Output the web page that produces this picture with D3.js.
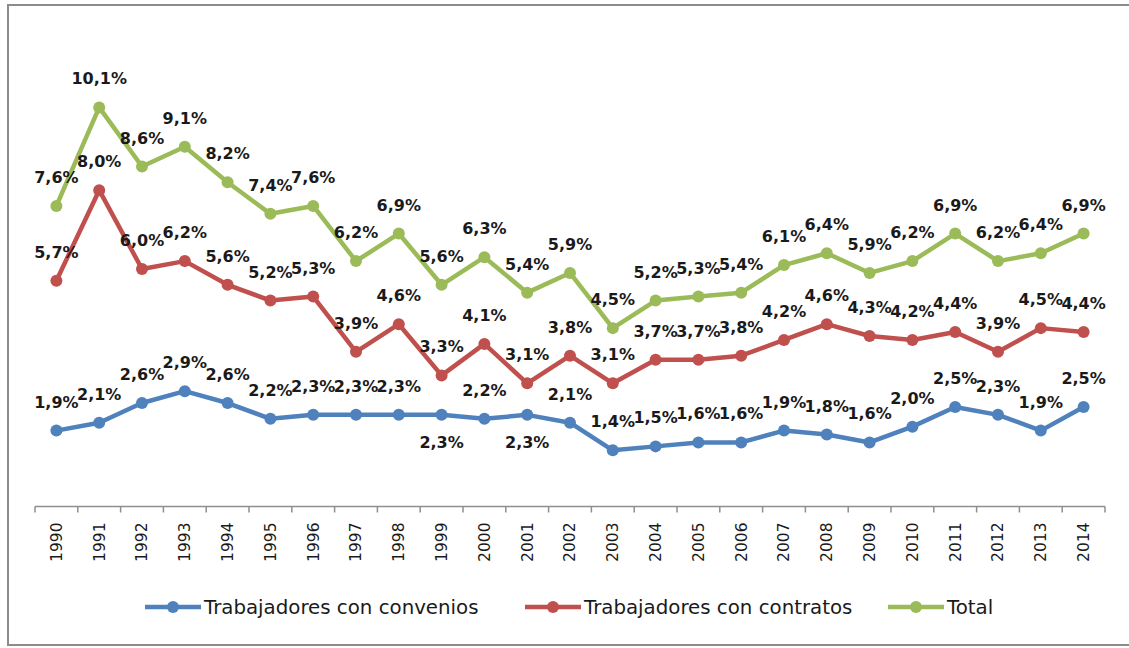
<!DOCTYPE html>
<head>
  <meta charset="utf-8">
  <title>Trabajadores</title>
  <style>
    body { margin: 0; background: #fff; }
    text { font-family: "DejaVu Sans", sans-serif; }
  </style>
</head>

<body>
  <script src="https://d3js.org/d3.v7.min.js"></script>
  <script>
  const years = ["1990","1991","1992","1993","1994","1995","1996","1997","1998","1999","2000","2001","2002",
                 "2003","2004","2005","2006","2007","2008","2009","2010","2011","2012","2013","2014"];
  const convenios = [1.9,2.1,2.6,2.9,2.6,2.2,2.3,2.3,2.3,2.3,2.2,2.3,2.1,1.4,1.5,1.6,1.6,1.9,1.8,1.6,2.0,2.5,2.3,1.9,2.5];
  const contratos = [5.7,8.0,6.0,6.2,5.6,5.2,5.3,3.9,4.6,3.3,4.1,3.1,3.8,3.1,3.7,3.7,3.8,4.2,4.6,4.3,4.2,4.4,3.9,4.5,4.4];
  const total = [7.6,10.1,8.6,9.1,8.2,7.4,7.6,6.2,6.9,5.6,6.3,5.4,5.9,4.5,5.2,5.3,5.4,6.1,6.4,5.9,6.2,6.9,6.2,6.4,6.9];
  // labels that sit under the point instead of above
  const belowLabels = {"Trabajadores con convenios": ["1999", "2001"]};

  const series = [
    {name: "Trabajadores con convenios", values: convenios, color: "#4F81BD"},
    {name: "Trabajadores con contratos", values: contratos, color: "#C0504D"},
    {name: "Total", values: total, color: "#9BBB59"}
  ];

  const W = 1129, H = 648;
  const svg = d3.select("body").append("svg")
    .attr("width", W).attr("height", H);

  // chart frame (right side is cut off in the original)
  svg.append("rect")
    .attr("x", 8).attr("y", 5).attr("width", 1140).attr("height", 640)
    .attr("fill", "none").attr("stroke", "#8c8c8c").attr("stroke-width", 2);

  const x = d3.scaleBand().domain(years).range([35, 1105]);
  const y = d3.scaleLinear().domain([0, 12]).range([505.5, 32.5]);
  const cx = d => x(d) + x.bandwidth() / 2;

  // x axis
  const xAxis = d3.axisBottom(x).tickSize(0).tickPadding(0);
  const gx = svg.append("g").attr("transform", "translate(0,506.5)").call(xAxis);
  gx.select(".domain").attr("stroke", "#8e8e8e").attr("stroke-width", 1.5).attr("d", "M35,0H1105");
  gx.selectAll(".tick text")
    .attr("transform", "rotate(-90)")
    .attr("x", -16).attr("y", 0).attr("dy", "0.35em")
    .attr("text-anchor", "end")
    .attr("font-size", 15.5).attr("fill", "#1a1a1a")
    .style("font-family", "'DejaVu Sans', sans-serif");
  gx.selectAll(".boundary")
    .data(d3.range(years.length + 1))
    .enter().append("line")
    .attr("x1", i => 35 + i * x.step()).attr("x2", i => 35 + i * x.step())
    .attr("y1", 0).attr("y2", 6)
    .attr("stroke", "#8e8e8e").attr("stroke-width", 1.5);

  const line = d3.line()
    .x((d, i) => cx(years[i]))
    .y(d => y(d));

  series.forEach(s => {
    const g = svg.append("g");
    g.append("path")
      .datum(s.values)
      .attr("d", line)
      .attr("fill", "none")
      .attr("stroke", s.color)
      .attr("stroke-width", 4.5)
      .attr("stroke-linejoin", "round");
    g.selectAll("circle")
      .data(s.values)
      .enter().append("circle")
      .attr("cx", (d, i) => cx(years[i]))
      .attr("cy", d => y(d))
      .attr("r", 6)
      .attr("fill", s.color);
  });

  // data labels on top of all lines
  series.forEach(s => {
    const below = belowLabels[s.name] || [];
    svg.append("g").selectAll("text")
      .data(s.values)
      .enter().append("text")
      .attr("x", (d, i) => cx(years[i]))
      .attr("y", (d, i) => below.includes(years[i]) ? y(d) + 33 : y(d) - 23)
      .attr("text-anchor", "middle")
      .attr("font-size", 16)
      .attr("font-weight", "bold")
      .attr("fill", "#1a1a1a")
      .text(d => d.toFixed(1).replace(".", ",") + "%");
  });

  // legend
  const legendX = [145, 525, 888];
  const legend = svg.append("g").attr("transform", "translate(0,607)");
  series.forEach((s, i) => {
    const g = legend.append("g").attr("transform", `translate(${legendX[i]},0)`);
    g.append("line")
      .attr("x1", 0).attr("x2", 56).attr("y1", 0).attr("y2", 0)
      .attr("stroke", s.color).attr("stroke-width", 4.5);
    g.append("circle").attr("cx", 28).attr("cy", 0).attr("r", 6).attr("fill", s.color);
    g.append("text")
      .attr("x", 59).attr("y", 0).attr("dy", "0.36em")
      .attr("font-size", 19.8)
      .attr("fill", "#1a1a1a")
      .text(s.name);
  });
  </script>
</body>
</html>
